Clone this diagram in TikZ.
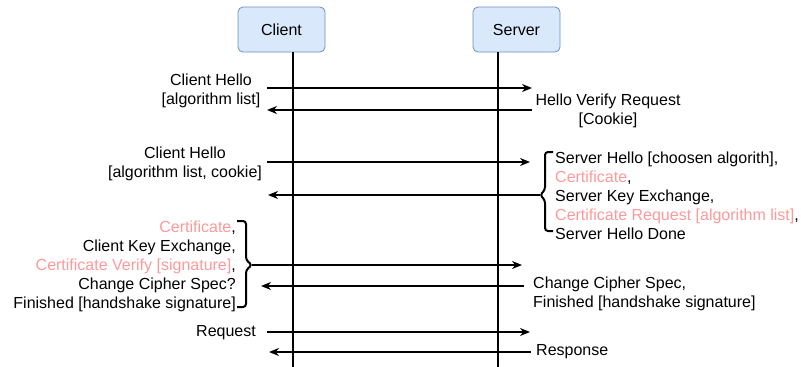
\documentclass[tikz,border=0pt]{standalone}
\usepackage{fontspec}
\setmainfont{Liberation Sans}
\usepackage{xcolor}
\usetikzlibrary{arrows.meta,positioning}
\definecolor{boxblue}{RGB}{218,232,252}
\definecolor{boxedge}{RGB}{108,142,191}
\definecolor{certpink}{RGB}{255,153,153}
\newcommand{\cert}[1]{\textcolor{certpink}{#1}}

\begin{document}
\begin{tikzpicture}[x=1pt,y=-1pt,>={Stealth[length=10pt,width=8pt]},
  every node/.style={font=\fontsize{16}{19}\selectfont,inner sep=0pt},
  lifebox/.style={draw=boxedge,fill=boxblue,rounded corners=5pt,minimum width=87pt,minimum height=45pt,line width=0.8pt},
  lifeline/.style={line width=2.4pt},
  msg/.style={->,line width=2pt},
  brace/.style={line width=2pt,rounded corners=3pt}]
  \useasboundingbox (0,0) rectangle (801,367);
  % participants
  \node[lifebox] (client) at (281.5,29.5) {Client};
  \node[lifebox] (server) at (516.5,29.5) {Server};
  \coordinate (clientTop) at (293,52);  \coordinate (clientBot) at (293,367);
  \coordinate (serverTop) at (498,52);  \coordinate (serverBot) at (498,367);
  \draw[lifeline] (clientTop) -- (clientBot);
  \draw[lifeline] (serverTop) -- (serverBot);

  % first hello
  \coordinate (m1a) at (267,88);  \coordinate (m1b) at (532,88);
  \coordinate (m2a) at (532,110); \coordinate (m2b) at (267,110);
  \draw[msg] (m1a) -- (m1b);
  \draw[msg] (m2a) -- (m2b);
  \node[align=center] (hello1) at (211,91) {Client Hello\\{}[algorithm list]};
  \node[align=center] (verify) at (608,111) {Hello Verify Request\\{}[Cookie]};

  % second hello
  \coordinate (m3a) at (267,162); \coordinate (m3b) at (530,162);
  \coordinate (sbrace) at (540,195); \coordinate (m4b) at (268,195);
  \draw[msg] (m3a) -- (m3b);
  \draw[msg] (sbrace) -- (m4b);
  \node[align=center] (hello2) at (185,164) {Client Hello\\{}[algorithm list, cookie]};
  \draw[brace] (553,152) -- (545,152) -- (545,190) -- (sbrace) -- (545,200) -- (545,231) -- (553,231);
  \node[anchor=west,align=left] (srvmsgs) at (555,195.5) {Server Hello [choosen algorith],\\
    \cert{Certificate},\\Server Key Exchange,\\\cert{Certificate Request [algorithm list]},\\Server Hello Done};

  % key exchange
  \coordinate (cbrace) at (252,265); \coordinate (m5b) at (522,265);
  \coordinate (m6a) at (524,286);    \coordinate (m6b) at (261,286);
  \draw[brace] (237,221) -- (246,221) -- (246,260) -- (cbrace) -- (246,270) -- (246,307) -- (237,307);
  \draw[msg] (cbrace) -- (m5b);
  \draw[msg] (m6a) -- (m6b);
  \node[anchor=east,align=right] (climsgs) at (236,266) {\cert{Certificate},\\Client Key Exchange,\\
    \cert{Certificate Verify [signature]},\\Change Cipher Spec?\\Finished [handshake signature]};
  \node[anchor=west,align=left] (finish) at (533,294) {Change Cipher Spec,\\Finished [handshake signature]};

  % application data
  \coordinate (m7a) at (267,332); \coordinate (m7b) at (530,332);
  \coordinate (m8a) at (531,352); \coordinate (m8b) at (269,352);
  \draw[msg] (m7a) -- (m7b);
  \draw[msg] (m8a) -- (m8b);
  \node[anchor=base east] (request) at (256,336) {Request};
  \node[anchor=base west] (response) at (536,355) {Response};
\end{tikzpicture}
\end{document}
